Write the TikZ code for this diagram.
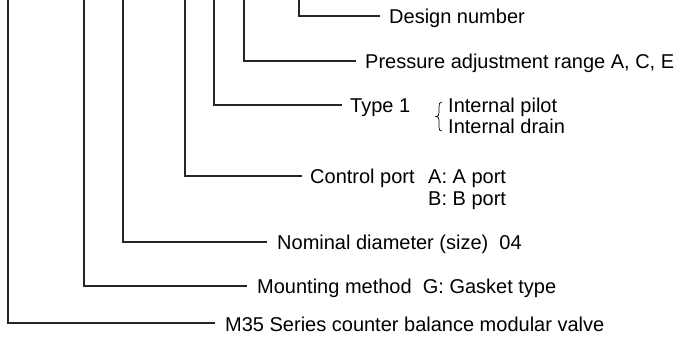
\documentclass[tikz,border=0pt]{standalone}
\usepackage{fontspec}
\setmainfont{Liberation Sans}
\begin{document}
\begin{tikzpicture}[x=1pt,y=-1pt,
  lbl/.style={anchor=west,inner sep=0pt,text height=16pt,text depth=0pt,font=\fontsize{20}{23}\selectfont},
  lead/.style={line width=1.1pt,draw=black!85}]
\useasboundingbox (0,0) rectangle (677,347);
% top ends of the leaders
\coordinate (t1) at (8,0);
\coordinate (t2) at (84,0);
\coordinate (t3) at (123,0);
\coordinate (t4) at (185,0);
\coordinate (t5) at (214,0);
\coordinate (t6) at (244,0);
\coordinate (t7) at (299,0);
% labels
\node[lbl] (l1) at (225,323) {M35 Series counter balance modular valve};
\node[lbl] (l2) at (257,286) {Mounting method\ \ G: Gasket type};
\node[lbl] (l3) at (277,242) {Nominal diameter (size)\ \ 04};
\node[lbl] (l4) at (310,176) {Control port};
\node[lbl] (l4a) at (428,176) {A: A port};
\node[lbl] (l4b) at (428,198) {B: B port};
\node[lbl] (l5) at (350,105) {Type 1};
\node[lbl] (l5a) at (448,105) {Internal pilot};
\node[lbl] (l5b) at (448,126) {Internal drain};
\node[lbl] (l6) at (365,61) {Pressure adjustment range A, C, E};
\node[lbl] (l7) at (389,16) {Design number};
% leaders
\draw[lead] (t1) |- ([xshift=-10pt]l1.west);
\draw[lead] (t2) |- ([xshift=-10pt]l2.west);
\draw[lead] (t3) |- ([xshift=-10pt]l3.west);
\draw[lead] (t4) |- ([xshift=-8pt]l4.west);
\draw[lead] (t5) |- ([xshift=-8pt]l5.west);
\draw[lead] (t6) |- ([xshift=-9pt]l6.west);
\draw[lead] (t7) |- ([xshift=-9pt]l7.west);
% brace
\draw[line width=0.7pt] (442,102) .. controls (439.5,102) and (439,104) .. (439,107)
  -- (439,113) .. controls (439,115.5) and (438,116.5) .. (436,116.5)
  .. controls (438,116.5) and (439,117.5) .. (439,120)
  -- (439,127) .. controls (439,130) and (439.5,131) .. (442,131);
\end{tikzpicture}
\end{document}
